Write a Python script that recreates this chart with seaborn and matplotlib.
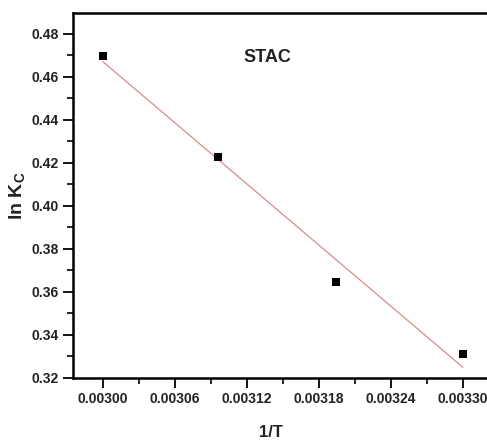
import numpy as np
import pandas as pd
import matplotlib
matplotlib.use("Agg")
import matplotlib.pyplot as plt
import seaborn as sns
from matplotlib.ticker import MultipleLocator, FormatStrFormatter

# data
inv_T = [0.00300, 0.0030956, 0.0031944, 0.00330]
ln_Kc = [0.4699, 0.4229, 0.3645, 0.3313]
label = "STAC"

df = pd.DataFrame({"inv_T": inv_T, "ln_Kc": ln_Kc})

# linear fit line
slope, intercept = np.polyfit(df["inv_T"], df["ln_Kc"], 1)
fit_x = np.array([min(inv_T), max(inv_T)])
fit_df = pd.DataFrame({"inv_T": fit_x, "ln_Kc": slope * fit_x + intercept})

sns.set_theme(style="ticks")
plt.rcParams["font.family"] = ["Liberation Sans", "DejaVu Sans"]
plt.rcParams["font.weight"] = "bold"
plt.rcParams["mathtext.fontset"] = "custom"
plt.rcParams["mathtext.bf"] = "Liberation Sans:bold"
plt.rcParams["mathtext.rm"] = "Liberation Sans:bold"

fig = plt.figure(figsize=(4.87, 4.43), dpi=100)
ax = fig.add_axes([0.150, 0.147, 0.867, 0.824])

sns.lineplot(data=fit_df, x="inv_T", y="ln_Kc", color="#d98a8a", linewidth=0.9, ax=ax)
sns.scatterplot(data=df, x="inv_T", y="ln_Kc", marker="s", color="black", s=32,
                edgecolor="black", linewidth=0, ax=ax, zorder=3)

ax.set_xlim(0.002975, 0.003327)
ax.set_ylim(0.32, 0.4898)

ax.xaxis.set_major_locator(MultipleLocator(0.00006))
ax.xaxis.set_minor_locator(MultipleLocator(0.00003))
ax.xaxis.set_major_formatter(FormatStrFormatter("%.5f"))
ax.yaxis.set_major_locator(MultipleLocator(0.02))
ax.yaxis.set_minor_locator(MultipleLocator(0.01))
ax.yaxis.set_major_formatter(FormatStrFormatter("%.2f"))

ax.tick_params(axis="both", which="major", direction="out", length=7, width=1.3,
               labelsize=10, color="black", labelcolor="#222222")
ax.tick_params(axis="both", which="minor", direction="out", length=4, width=1.2, color="black")
for lab in ax.get_xticklabels() + ax.get_yticklabels():
    lab.set_fontweight("bold")

ax.spines["right"].set_visible(False)
for side in ["left", "bottom", "top"]:
    ax.spines[side].set_linewidth(1.8)
    ax.spines[side].set_color("black")

ax.set_xlabel("1/T", fontsize=12, fontweight="bold", color="#222222")
ax.xaxis.set_label_coords((271 - 73) / (0.867 * 487), -0.13)
ax.set_ylabel(r"ln K$_\mathbf{C}$", fontsize=14, fontweight="bold", color="#222222")
ax.yaxis.set_label_coords(-0.107, 0.5)

ax.text(0.003117, 0.4689, label, fontsize=13, fontweight="bold", color="#222222",
        va="center", ha="left")

fig.savefig("out.png", dpi=100)
